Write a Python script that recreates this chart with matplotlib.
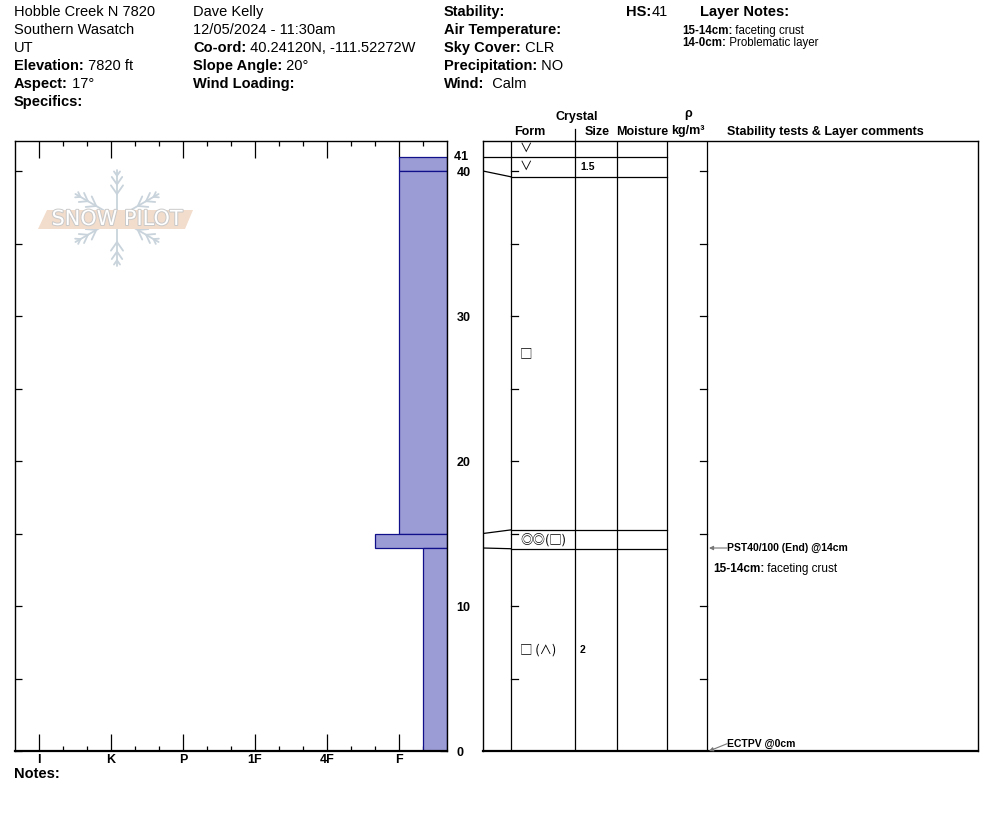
import numpy as np
import matplotlib
matplotlib.use('Agg')
import matplotlib.pyplot as plt
import matplotlib.patheffects as pe
from matplotlib.lines import Line2D
from matplotlib.patches import Polygon

plt.rcParams['font.family'] = ['Liberation Sans', 'DejaVu Sans']

W, H = 994, 840

# ---- data read from the profile ----
hardness_labels = ['I', 'K', 'P', '1F', '4F', 'F']
layer_top = [41, 40, 15, 14]
layer_bottom = [40, 15, 14, 0]
layer_hardness = ['F', 'F', 'F+', 'F-']

# table rows (display positions in cm) and their contents
row_edges = [41.0, 39.6, 15.25, 13.95, 0]
row_form = ['∨', '∨', '□', '◎◎(□)', '□ (∧)']
row_size = ['', '1.5', '', '', '2']

test_names = ['PST40/100 (End) @14cm', 'ECTPV @0cm']
test_depth = [14, 0]
comment_head = '15-14cm:'
comment_body = ' faceting crust'
snow_height = 41

site_lines = [('', 'Hobble Creek N 7820'), ('', 'Southern Wasatch'), ('', 'UT'),
              ('Elevation:', ' 7820 ft'), ('Aspect:', ' 17°'), ('Specifics:', '')]
obs_lines = [('', 'Dave Kelly'), ('', '12/05/2024 - 11:30am'),
             ('Co-ord:', ' 40.24120N, -111.52272W'), ('Slope Angle:', ' 20°'),
             ('Wind Loading:', '')]
wx_lines = [('Stability:', ''), ('Air Temperature:', ''), ('Sky Cover:', ' CLR'),
            ('Precipitation:', ' NO'), ('Wind:', '  Calm')]
layer_notes = [('15-14cm:', ' faceting crust'), ('14-0cm:', ' Problematic layer')]

depth_max = 42.07


def hardness_value(code):
    base = {'F': 1, '4F': 2, '1F': 3, 'P': 4, 'K': 5, 'I': 6}[code.rstrip('+-')]
    if code.endswith('+'):
        return base + 1 / 3
    if code.endswith('-'):
        return base - 1 / 3
    return base


fig = plt.figure(figsize=(W / 100, H / 100), dpi=100)
renderer = fig.canvas.get_renderer()


def put_pair(x, y, bold, normal, size=10.5):
    # x, y in pixels from the top-left corner of the figure
    xx = x / W
    if bold:
        t = fig.text(xx, 1 - y / H, bold, fontsize=size, fontweight='bold', va='center')
        xx = t.get_window_extent(renderer).x1 / W
    if normal:
        fig.text(xx, 1 - y / H, normal, fontsize=size, va='center')


# ---- header ----
for i, (b, n) in enumerate(site_lines):
    put_pair(14, 12 + 18 * i, b, n)
for i, (b, n) in enumerate(obs_lines):
    put_pair(193, 12 + 18 * i, b, n)
for i, (b, n) in enumerate(wx_lines):
    put_pair(444, 12 + 18 * i, b, n)
put_pair(626, 12, 'HS:', str(snow_height))
put_pair(700, 12, 'Layer Notes:', '')
for i, (b, n) in enumerate(layer_notes):
    put_pair(682, 31 + 12 * i, b, n, size=8.3)

# ---- hardness profile ----
ax1 = fig.add_axes([15 / W, 89 / H, 432 / W, 610 / H])
ax1.set_xlim(6 + 1 / 3, 1 / 3)
ax1.set_ylim(0, depth_max)
for top, bot, hd in zip(layer_top, layer_bottom, layer_hardness):
    hv = hardness_value(hd)
    ax1.barh((top + bot) / 2, hv - 1 / 3, left=1 / 3, height=top - bot,
             color='#9b9bd6', edgecolor='#10108a', linewidth=0.9, zorder=2)

ax1.set_xticks(range(6, 0, -1))
ax1.set_xticklabels(hardness_labels, fontweight='bold', fontsize=9)
minor = [m + k / 3 for m in range(0, 6) for k in (1, 2) if 0.5 < m + k / 3 < 6.2]
ax1.set_xticks(minor, minor=True)
ax1.tick_params(axis='x', which='major', direction='in', length=12, width=0.9,
                top=True, bottom=True, pad=2)
ax1.tick_params(axis='x', which='minor', direction='in', length=3.5, width=0.9,
                top=True, bottom=True)
ax1.set_yticks(range(0, 45, 5))
ax1.set_yticklabels(['0', '', '10', '', '20', '', '30', '', '40'],
                    fontweight='bold', fontsize=9)
ax1.tick_params(axis='y', direction='in', length=5, width=0.9, left=True, right=True,
                labelleft=False, labelright=True, pad=7)
for lbl in ax1.get_yticklabels():
    lbl.set_horizontalalignment('left')
ax1.text(1.0, snow_height, '  ' + str(snow_height), transform=ax1.get_yaxis_transform(),
         fontsize=9, fontweight='bold', va='center', ha='left', clip_on=False)
for s in ax1.spines.values():
    s.set_linewidth(1.0)
ax1.spines['bottom'].set_linewidth(1.6)
fig.text(14 / W, 1 - 774 / H, 'Notes:', fontsize=10.5, fontweight='bold', va='center')


# ---- SnowPilot watermark ----
def px_line(xs, ys, **kw):
    xs, ys = np.asarray(xs), np.asarray(ys)
    fig.add_artist(Line2D(xs / W, 1 - ys / H, transform=fig.transFigure, **kw))


cx, cy, r = 117, 218, 48
flake = dict(color='#c8d3db', lw=1.3, zorder=3, solid_capstyle='round')
for ang in range(90, 450, 60):
    a = np.radians(ang)
    px_line([cx, cx + r * np.cos(a)], [cy, cy - r * np.sin(a)], **flake)
    for f, bl in [(0.5, 0.22), (0.7, 0.19), (0.88, 0.11)]:
        bx, by = cx + f * r * np.cos(a), cy - f * r * np.sin(a)
        for s in (1, -1):
            b = a + s * np.radians(35)
            px_line([bx, bx + bl * r * np.cos(b)], [by, by - bl * r * np.sin(b)], **flake)
band = np.array([(38, 229), (47, 210), (193, 210), (185, 229)], float)
fig.add_artist(Polygon(np.c_[band[:, 0] / W, 1 - band[:, 1] / H], closed=True,
                       transform=fig.transFigure, facecolor='#f2dccb', edgecolor='none',
                       zorder=4))
fig.text(117 / W, 1 - 219 / H, 'SNOW PILOT', fontsize=15, color='white', ha='center',
         va='center', family='DejaVu Sans', zorder=5,
         path_effects=[pe.withStroke(linewidth=1.4, foreground='#c9c9c9')])

# ---- layer table ----
ax2 = fig.add_axes([483 / W, 89 / H, 495 / W, 610 / H])
ax2.set_xlim(0, 495)
ax2.set_ylim(0, depth_max)
ax2.set_xticks([])
ax2.set_yticks([])
for s in ax2.spines.values():
    s.set_linewidth(1.0)
ax2.spines['bottom'].set_linewidth(1.6)

col_x = [28, 92, 134, 184, 224]
lk = dict(color='black', lw=0.9)
for x in col_x:
    ax2.plot([x, x], [0, depth_max], **lk)
ax2.plot([92, 92], [depth_max, depth_max + 0.83], clip_on=False, **lk)
# connectors from real depth to table row
for real, shown in zip(layer_top, row_edges[:-1]):
    ax2.plot([0, 28], [real, shown], **lk)
    ax2.plot([28, 184], [shown, shown], **lk)
for d in range(5, 45, 5):
    ax2.plot([28, 35], [d, d], **lk)
    ax2.plot([217, 224], [d, d], **lk)

tops = [depth_max] + row_edges[:-1]
for top, bot, form, size in zip(tops, row_edges, row_form, row_size):
    yc = (top + bot) / 2
    ax2.text(37, yc, form, fontsize=9, family=['Noto Sans CJK SC', 'DejaVu Sans'],
             va='center', ha='left')
    if size:
        ax2.text(97, yc, size, fontsize=7.5, fontweight='bold', va='center', ha='left')

# column headings
hd = dict(fontsize=9, fontweight='bold', ha='center', va='center', clip_on=False)
ax2.text(94, depth_max + 1.65, 'Crystal', **hd)
ax2.text(47, depth_max + 0.62, 'Form', **hd)
ax2.text(114, depth_max + 0.62, 'Size', **hd)
ax2.text(159, depth_max + 0.62, 'Moisture', **hd)
ax2.text(205, depth_max + 1.85, 'ρ', **hd)
ax2.text(205, depth_max + 0.72, 'kg/m³', **hd)
ax2.text(244, depth_max + 0.62, 'Stability tests & Layer comments', fontsize=9,
         fontweight='bold', ha='left', va='center', clip_on=False)

# stability tests
for name, d in zip(test_names, test_depth):
    ty = max(d, 0.5)
    ax2.annotate('', xy=(226, d), xytext=(244, ty),
                 arrowprops=dict(arrowstyle='-|>', color='#777777', lw=0.8,
                                 mutation_scale=6, shrinkA=0, shrinkB=0))
    ax2.text(244, ty, name, fontsize=7.5, fontweight='bold', va='center', ha='left')

fig.canvas.draw()
p = ax2.transData.transform((230, test_depth[0] - 1.42))
t = fig.text(p[0] / W, p[1] / H, comment_head, fontsize=8.5, fontweight='bold', va='center')
x1 = t.get_window_extent(renderer).x1
fig.text(x1 / W, p[1] / H, comment_body, fontsize=8.5, va='center')

fig.savefig('out.png', dpi=100)
